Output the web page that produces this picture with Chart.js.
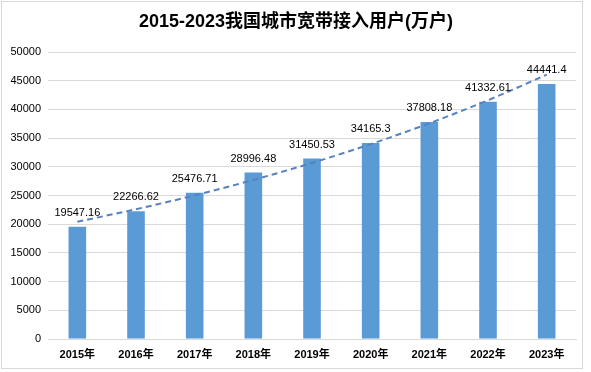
<!DOCTYPE html>
<html>
<head>
<meta charset="utf-8">
<script src="https://cdn.jsdelivr.net/npm/chart.js@4.4.0/dist/chart.umd.min.js"></script>
<style>
  body { margin: 0; background: #fff; }
  #wrap { width: 591px; height: 372px; }
</style>
</head>
<body>
<div id="wrap"><canvas id="c" width="591" height="372"></canvas></div>
<script>
// данные с картинки
const years = ['2015年', '2016年', '2017年', '2018年', '2019年', '2020年', '2021年', '2022年', '2023年'];
const users = [19547.16, 22266.62, 25476.71, 28996.48, 31450.53, 34165.3, 37808.18, 41332.61, 44441.4];
// пунктирная линия тренда
const trend = [20430, 22610, 25030, 27710, 30670, 33950, 37580, 41600, 46040];
const yTicks = [0, 5000, 10000, 15000, 20000, 25000, 30000, 35000, 40000, 45000, 50000];

const FONT = '"Liberation Sans", "Noto Sans CJK SC", sans-serif';

// подписи над столбцами, заголовок и рамка
const extras = {
  id: 'extras',
  beforeDraw(chart) {
    const ctx = chart.ctx;
    ctx.save();
    ctx.fillStyle = '#fff';
    ctx.fillRect(0, 0, chart.width, chart.height);
    ctx.strokeStyle = '#d9d9d9';
    ctx.lineWidth = 1;
    ctx.strokeRect(1.5, 1.5, 581, 367);
    ctx.fillStyle = '#000';
    ctx.font = 'bold 18px ' + FONT;
    ctx.textAlign = 'center';
    ctx.textBaseline = 'middle';
    ctx.fillText('2015-2023我国城市宽带接入用户(万户)', 296, 22);
    ctx.restore();
  },
  afterDatasetsDraw(chart) {
    const ctx = chart.ctx;
    const meta = chart.getDatasetMeta(0);
    ctx.save();
    ctx.fillStyle = '#000';
    ctx.font = '11px ' + FONT;
    ctx.textAlign = 'center';
    ctx.textBaseline = 'middle';
    meta.data.forEach((bar, i) => {
      ctx.fillText(String(users[i]), bar.x, bar.y - 14);
    });
    ctx.restore();
  }
};

new Chart(document.getElementById('c'), {
  data: {
    labels: years,
    datasets: [
      {
        type: 'bar',
        data: users,
        backgroundColor: '#5b9bd5',
        barPercentage: 0.6,
        categoryPercentage: 0.5,
        order: 2
      },
      {
        type: 'line',
        data: trend,
        borderColor: '#5682bf',
        borderWidth: 2,
        borderDash: [6, 4],
        pointRadius: 0,
        cubicInterpolationMode: 'monotone',
        fill: false,
        order: 1
      }
    ]
  },
  options: {
    responsive: false,
    animation: false,
    layout: { padding: { top: 52, right: 15, left: 0, bottom: 0 } },
    plugins: {
      legend: { display: false },
      title: { display: false },
      tooltip: { enabled: false }
    },
    scales: {
      x: {
        grid: { display: false, drawTicks: false },
        border: { color: '#d9d9d9' },
        ticks: {
          color: '#000',
          font: { family: FONT, size: 11, weight: 'bold' },
          padding: 9
        },
        afterFit(scale) { scale.height = 33; }
      },
      y: {
        min: 0,
        max: 50000,
        afterBuildTicks(scale) { scale.ticks = yTicks.map(v => ({ value: v })); },
        grid: { color: '#d9d9d9', drawTicks: false },
        border: { display: false },
        ticks: {
          color: '#000',
          font: { family: FONT, size: 11 },
          padding: 7,
          callback: v => String(v)
        },
        afterFit(scale) { scale.width = 48; }
      }
    }
  },
  plugins: [extras]
});
</script>
</body>
</html>
